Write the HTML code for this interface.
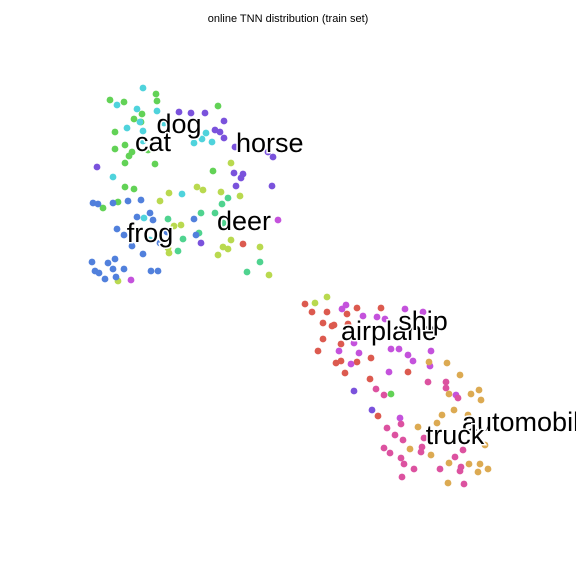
<!DOCTYPE html>
<html><head><meta charset="utf-8"><style>
html,body{margin:0;padding:0;background:#fff;}
svg{display:block;}
text{font-family:"Liberation Sans","DejaVu Sans",sans-serif;}
</style></head><body>
<svg id="chart" width="576" height="576">
<text x="288" y="22" text-anchor="middle" font-size="11" fill="#000">online TNN distribution (train set)</text>
<g id="pts"></g>
<g id="lbls"></g>
</svg>
<script>
const colors = {cat:"#62d256",dog:"#4fd3dc",horse:"#7a52dc",deer_a:"#b9d94f",deer_b:"#4fd38f",frog:"#5180dc",airplane:"#dc5a4f",ship:"#c452dc",truck:"#dc52a0",automobile:"#dcaa52",misc_red:"#dc5a4f",misc_mag:"#c452dc",misc_purple:"#7a52dc",misc_green:"#62d256",misc_yg:"#b9d94f"};
const catX=[110,124,156,218,142,141,134,115,125,115,132,129,125,155,213,125,134,103,118,157,148];
const catY=[100,102,94,106,114,122,119,132,145,149,152,156,163,164,171,187,189,208,202,101,150];
const dogX=[143,117,137,157,140,127,143,143,164,206,194,202,212,113,182,144,150];
const dogY=[88,105,109,111,122,128,131,141,123,133,143,139,142,177,194,218,240];
const horseX=[179,191,205,224,215,220,224,235,268,273,97,234,243,241,236,272,201];
const horseY=[112,113,113,121,130,132,138,147,152,157,167,173,174,178,186,186,243];
const deerAX=[231,197,221,240,169,160,203,181,168,169,223,228,231,218,260,269,118,174];
const deerAY=[163,187,192,196,193,201,190,225,248,253,247,249,240,255,247,275,281,226];
const deerBX=[228,222,201,215,168,199,183,178,260,247,223];
const deerBY=[198,204,213,213,219,233,239,251,262,272,223];
const frogX=[93,98,113,128,141,150,137,117,124,132,143,167,194,196,92,108,115,95,99,105,113,124,116,151,158,160,153];
const frogY=[203,204,203,201,200,213,217,229,235,246,254,232,219,235,262,263,259,271,273,279,269,269,277,271,271,243,220];
const airX=[305,312,327,347,357,381,323,332,334,323,318,341,336,341,357,345,371,370,408,378,348,243];
const airY=[304,312,312,314,308,308,323,326,325,339,351,344,363,361,362,373,358,379,372,416,324,244];
const shipX=[342,346,363,377,385,405,423,354,339,359,351,391,399,408,413,431,430,389,456,400,278,131];
const shipY=[309,305,316,317,319,309,312,343,351,353,364,349,349,355,361,351,366,372,395,418,220,280];
const truckX=[376,384,428,446,446,458,401,387,395,403,384,390,401,404,414,402,422,421,440,461,460,463,455,464,424];
const truckY=[389,395,382,382,388,398,424,428,435,440,448,453,458,464,469,477,447,452,469,467,471,450,457,484,438];
const autoX=[447,460,449,471,479,481,442,454,468,437,418,429,410,431,449,469,480,488,478,448,485,475];
const autoY=[363,375,394,394,390,400,415,410,415,423,427,362,449,455,463,464,464,469,472,483,445,433];
const otherX=[354,372,391,315,327];
const otherY=[391,410,394,303,297];
const otherC=["misc_purple","misc_purple","misc_green","misc_yg","misc_yg"];
const series=[["cat",catX,catY],["dog",dogX,dogY],["horse",horseX,horseY],["deer_a",deerAX,deerAY],["deer_b",deerBX,deerBY],["frog",frogX,frogY],["airplane",airX,airY],["ship",shipX,shipY],["truck",truckX,truckY],["automobile",autoX,autoY]];
const labelNames=["dog","cat","horse","deer","frog","airplane","ship","automobile","truck"];
const labelX=[179,153,236,217,150,389,423,462,455];
const labelY=[124,142,143,221,233,331,321,422,435];
const labelAnchor=["middle","middle","start","start","middle","middle","middle","start","middle"];
const xs=v=>v*576/576, ys=v=>v*576/576;
const NS="http://www.w3.org/2000/svg";
const pts=document.getElementById("pts");
function dot(x,y,c){const el=document.createElementNS(NS,"circle");
el.setAttribute("cx",xs(x));el.setAttribute("cy",ys(y));el.setAttribute("r",3.4);el.setAttribute("fill",c);


pts.appendChild(el);}
series.forEach(s=>{for(let i=0;i<s[1].length;i++)dot(s[1][i],s[2][i],colors[s[0]]);});
for(let i=0;i<otherX.length;i++)dot(otherX[i],otherY[i],colors[otherC[i]]);
const lb=document.getElementById("lbls");
for(let i=0;i<labelNames.length;i++){const t=document.createElementNS(NS,"text");
t.setAttribute("x",xs(labelX[i]));t.setAttribute("y",ys(labelY[i])+9);t.setAttribute("text-anchor",labelAnchor[i]);
t.setAttribute("font-size","27");t.setAttribute("fill","#000");t.setAttribute("stroke","#fff");t.setAttribute("stroke-width","3");t.setAttribute("paint-order","stroke");
t.textContent=labelNames[i];


lb.appendChild(t);}
</script>
</body></html>
